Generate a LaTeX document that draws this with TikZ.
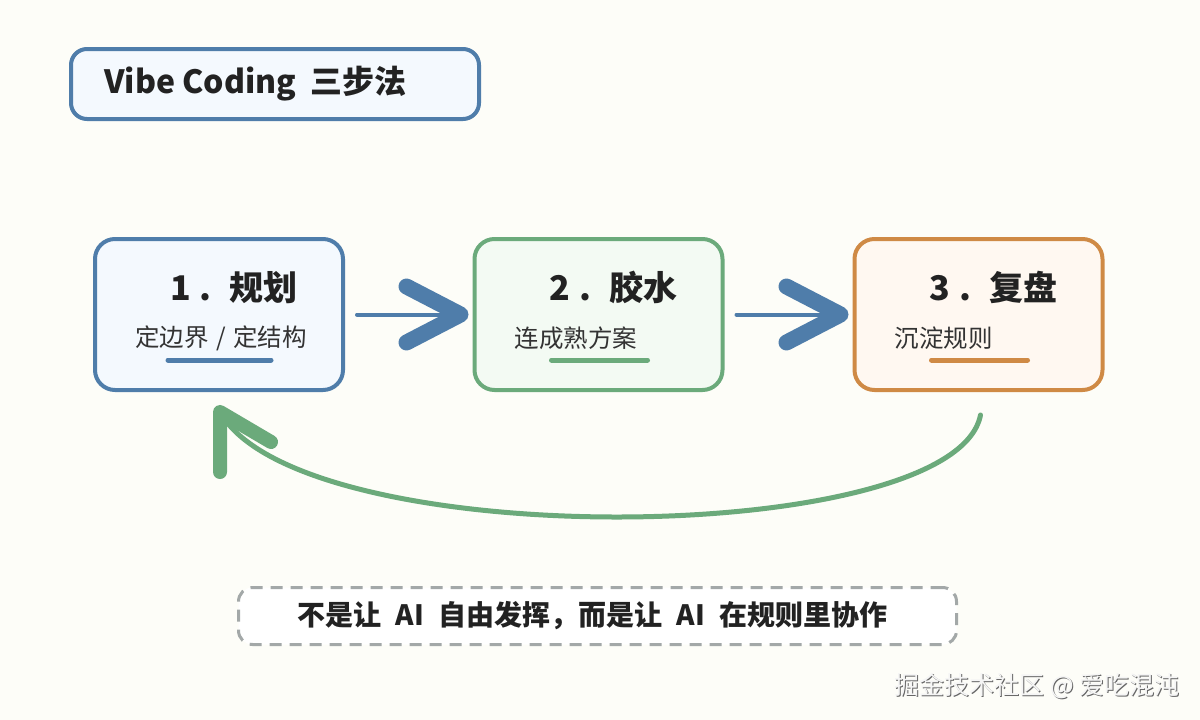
\documentclass[tikz,border=0pt]{standalone}
\usepackage{fontspec}
\setmainfont{Noto Sans CJK SC}
\usetikzlibrary{calc}
\definecolor{bg}{HTML}{FDFDF8}
\definecolor{cblue}{HTML}{4F7DAA}
\definecolor{fblue}{HTML}{F4F9FE}
\definecolor{cgreen}{HTML}{6BAA7B}
\definecolor{fgreen}{HTML}{F3FAF3}
\definecolor{corange}{HTML}{CF8A45}
\definecolor{forange}{HTML}{FFF8F1}
\definecolor{cdash}{HTML}{A3A8A8}
\definecolor{ctext}{HTML}{222222}
\definecolor{csub}{HTML}{333333}
\newcommand{\stepnum}[2]{#1\hspace{9pt}.\hspace{18pt}#2}
\begin{document}
\begin{tikzpicture}[x=1pt,y=-1pt,
  stepbox/.style={draw, line width=4pt, rounded corners=20pt, inner sep=0pt, minimum width=248pt, minimum height=151pt},
  steptitle/.style={font=\fontsize{34pt}{38pt}\selectfont\bfseries, text=ctext, inner sep=0pt},
  stepsub/.style={font=\fontsize{24.5pt}{28pt}\selectfont, text=csub, inner sep=0pt, anchor=west},
  uline/.style={line width=5pt, line cap=round},
  flowline/.style={line width=4pt, line cap=round},
  chevron/.style={line width=16pt, line cap=round, line join=round}]
\useasboundingbox[fill=bg] (0,0) rectangle (1200,720);

% title
\node[draw=cblue, fill=fblue, line width=4pt, rounded corners=16pt, minimum width=408pt, minimum height=70pt, inner sep=0pt] (title) at (275,84) {};
\node[anchor=west, inner sep=0pt, font=\fontsize{32pt}{36pt}\selectfont\bfseries, text=ctext] (titletext) at ($(title.west)+(35,0)$) {Vibe Coding\hspace{7pt} 三步法};

% boxes
\node[stepbox, draw=cblue, fill=fblue] (b1) at (219,314.5) {};
\node[stepbox, draw=cgreen, fill=fgreen] (b2) at (598.5,314.5) {};
\node[stepbox, draw=corange, fill=forange] (b3) at (978.5,314.5) {};

\node[steptitle] (t1) at ($(b1.center)+(15,-27)$) {\stepnum{1}{规划}};
\node[steptitle] (t2) at ($(b2.center)+(15,-27)$) {\stepnum{2}{胶水}};
\node[steptitle] (t3) at ($(b3.center)+(15,-27)$) {\stepnum{3}{复盘}};

\node[stepsub] (s1) at ($(b1.west)+(42,23.5)$) {定边界\hspace{2pt} / \hspace{2pt}定结构};
\node[stepsub] (s2) at ($(b2.west)+(42,23.5)$) {连成熟方案};
\node[stepsub] (s3) at ($(b3.west)+(42,23.5)$) {沉淀规则};

\draw[uline, cblue] ($(b1.center)+(-51,45.5)$) -- ++(103,0);
\draw[uline, cgreen] ($(b2.center)+(-47,45.5)$) -- ++(96,0);
\draw[uline, corange] ($(b3.center)+(-47,45.5)$) -- ++(96,0);

% forward arrows
\draw[flowline, cblue] ($(b1.east)+(12,0)$) -- ($(b2.west)+(-13,0)$);
\draw[chevron, cblue] ($(b2.west)+(-66,-28)$) -- ($(b2.west)+(-12,0)$) -- ($(b2.west)+(-66,28)$);
\draw[flowline, cblue] ($(b2.east)+(12,0)$) -- ($(b3.west)+(-13,0)$);
\draw[chevron, cblue] ($(b3.west)+(-66,-28)$) -- ($(b3.west)+(-12,0)$) -- ($(b3.west)+(-66,28)$);

% feedback arrow
\coordinate (fbstart) at ($(b3.south)+(2,23)$);
\coordinate (fbend) at ($(b1.south)+(1,20)$);
\draw[cgreen, line width=5pt, line cap=round] (fbstart) .. controls (955,548) and (300,555) .. (fbend);
\draw[cgreen, line width=14pt, line cap=round, line join=round] ($(fbend)+(0,60)$) -- (fbend) -- ($(fbend)+(51,30)$);

% bottom note
\node[draw=cdash, fill=white, line width=3pt, dash pattern=on 12pt off 8pt, rounded corners=14pt, minimum width=718pt, minimum height=57pt, inner sep=0pt] (note) at (597.5,616) {};
\node[font=\fontsize{28pt}{32pt}\selectfont\bfseries, text=ctext, inner sep=0pt] (notetext) at ($(note.center)+(-5,0)$) {不是让\hspace{8pt} AI\hspace{8pt} 自由发挥，而是让\hspace{8pt} AI\hspace{8pt} 在规则里协作};

% watermark
\node[anchor=east, inner sep=0pt, font=\fontsize{25pt}{28pt}\selectfont, text=gray!80!black] (wmshadow) at (1181,687) {掘金技术社区 @ 爱吃混沌};
\node[anchor=east, inner sep=0pt, font=\fontsize{25pt}{28pt}\selectfont, text=white!92!gray] (wm) at (1180,686) {掘金技术社区 @ 爱吃混沌};
\end{tikzpicture}
\end{document}
